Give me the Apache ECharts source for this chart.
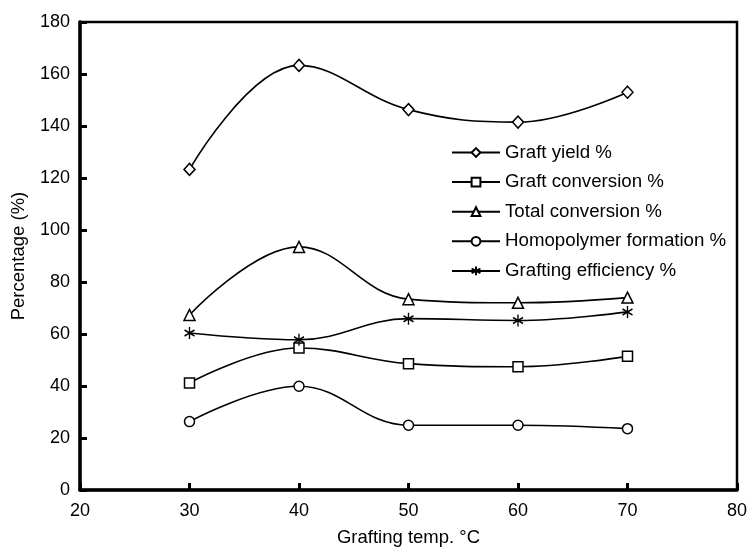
<!DOCTYPE html>
<html>
<head>
<meta charset="utf-8">
<script src="https://cdn.jsdelivr.net/npm/echarts@6/dist/echarts.min.js"></script>
<style>html,body{margin:0;padding:0;background:#fff}#c{width:749px;height:549px}</style>
</head>
<body>
<div id="c"></div>
<script>
const temps = [30, 40, 50, 60, 70];
const graftYield = [123.3, 163.3, 146.3, 141.5, 153.0];
const graftConversion = [41.2, 54.6, 48.6, 47.4, 51.4];
const totalConversion = [67.3, 93.5, 73.4, 72.0, 74.0];
const homopolymer = [26.3, 39.9, 24.9, 24.9, 23.6];
const graftingEfficiency = [60.4, 57.8, 65.9, 65.2, 68.5];
const seriesNames = ['Graft yield %', 'Graft conversion %', 'Total conversion %', 'Homopolymer formation %', 'Grafting efficiency %'];

const star = 'path://M5,0L5,10M0.7,2.5L9.3,7.5M0.7,7.5L9.3,2.5';
const defs = [
  [graftYield, 'diamond', [11, 12]],
  [graftConversion, 'rect', 10],
  [totalConversion, 'triangle', 11],
  [homopolymer, 'circle', 10],
  [graftingEfficiency, star, [10, 12]]
];

const chart = echarts.init(document.getElementById('c'));
chart.setOption({
  animation: false,
  backgroundColor: '#fff',
  textStyle: { fontFamily: 'Liberation Sans, Arial, sans-serif', color: '#000' },
  grid: { left: 80, right: 12, top: 22, bottom: 59, show: true, borderColor: '#000', borderWidth: 2.5, containLabel: false, outerBoundsMode: 'none' },
  legend: {
    orient: 'vertical', left: 446, top: 138,
    itemWidth: 48, itemHeight: 11, itemGap: 10.6,
    textStyle: { fontSize: 18.7, color: '#000', fontFamily: 'Liberation Sans, Arial, sans-serif' },
    data: seriesNames
  },
  xAxis: {
    type: 'value', min: 20, max: 80, interval: 10,
    name: 'Grafting temp. \u00B0C', nameLocation: 'middle', nameGap: 38,
    nameTextStyle: { fontSize: 18.5, color: '#000' },
    axisLine: { lineStyle: { color: '#000', width: 3.5 } },
    axisTick: { inside: true, length: 7, lineStyle: { color: '#000', width: 3 } },
    axisLabel: { fontSize: 18, color: '#000', margin: 12 },
    splitLine: { show: false }
  },
  yAxis: {
    type: 'value', min: 0, max: 180, interval: 20,
    name: 'Percentage (%)', nameLocation: 'middle', nameGap: 52, nameRotate: 90,
    nameTextStyle: { fontSize: 18.5, color: '#000' },
    axisLine: { lineStyle: { color: '#000', width: 3.5 } },
    axisTick: { inside: true, length: 7, lineStyle: { color: '#000', width: 3 } },
    axisLabel: { fontSize: 18, color: '#000', margin: 10 },
    splitLine: { show: false }
  },
  series: defs.map((d, i) => ({
    name: seriesNames[i],
    type: 'line',
    smooth: 0.4,
    data: temps.map((t, j) => [t, d[0][j]]),
    symbol: d[1],
    symbolSize: d[2],
    showAllSymbol: true,
    lineStyle: { color: '#000', width: 1.6 },
    itemStyle: { color: '#fff', borderColor: '#000', borderWidth: 1.5 },
    z: 3
  }))
});
</script>
</body>
</html>
